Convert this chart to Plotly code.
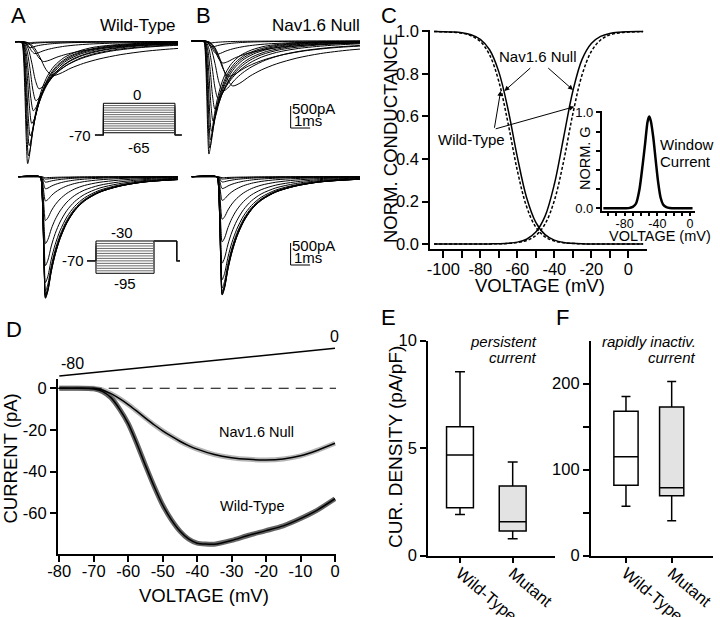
import plotly.graph_objects as go

W, H = 720, 617
FONT = "Liberation Sans, Arial, Helvetica, sans-serif"

# ---------------- data ----------------
# A/B sweeps: normalised sodium-current time course (t in units of time-to-peak)
sweep_shape_t = [0, 0.2, 0.4, 0.6, 0.8, 1.0, 1.25, 1.6, 2.0, 2.5, 3.2, 4.0, 5.0, 6.5, 8.5, 11, 15, 20, 30]
sweep_shape_i = [0, 0.02, 0.15, 0.45, 0.82, 1.0, 0.94, 0.78, 0.64, 0.51, 0.38, 0.28, 0.2, 0.13, 0.08, 0.045, 0.022, 0.009, 0]

# activation families (steps -65..0 mV): peak amplitude (pA) and time to peak (ms)
wt_act_peak_pa = [2770, 2590, 2360, 2140, 1860, 1570, 1340, 1070, 770, 450, 270, 135, 55, 25]
wt_act_rise_ms = [0.34, 0.38, 0.42, 0.47, 0.55, 0.63, 0.76, 0.92, 1.6, 1.15, 0.7, 0.45, 0.35, 0.3]
null_act_peak_pa = [2570, 2430, 2250, 2050, 1820, 1550, 1300, 1140, 1020, 800, 500, 300, 135, 45]
null_act_rise_ms = [0.29, 0.33, 0.37, 0.42, 0.5, 0.6, 0.75, 1.0, 1.5, 1.3, 1.0, 0.7, 0.45, 0.35]

# inactivation families (prepulses -95..-30 mV)
wt_inact_peak_pa = [2764, 2750, 2723, 2681, 2598, 2405, 2018, 1520, 995, 553, 276, 124, 55, 22]
null_inact_peak_pa = [2690, 2677, 2650, 2609, 2529, 2340, 1964, 1480, 968, 538, 269, 121, 54, 22]
inact_rise_ms = 0.28
inact_decay_ms = 0.5

scale_pa = 500
scale_ms = 1

# voltage protocols
hold_mv = -70
act_steps_mv = [-65, -60, -55, -50, -45, -40, -35, -30, -25, -20, -15, -10, -5, 0]
act_protocol_ms = [0.0, 0.43, 4.1, 4.44]
inact_steps_mv = [-95, -90, -85, -80, -75, -70, -65, -60, -55, -50, -45, -40, -35, -30]
inact_test_mv = -30
inact_protocol_ms = [0.0, 0.46, 3.44, 4.6, 4.77]

# C: normalised conductance
c_volt_mv = [-105, -100, -95, -90, -85, -80, -75, -70, -65, -60, -55, -50, -45, -40,
             -35, -30, -25, -20, -15, -10, -5, 0, 5, 8]
null_inact_g = [1.0, 0.999, 0.9975, 0.994, 0.985, 0.963, 0.914, 0.810, 0.633, 0.410, 0.219, 0.102,
                0.044, 0.018, 0.007, 0.003, 0.001, 0, 0, 0, 0, 0, 0, 0]
wt_inact_g = [1.0, 0.9987, 0.9968, 0.992, 0.980, 0.953, 0.890, 0.765, 0.568, 0.346, 0.176, 0.079,
              0.034, 0.014, 0.0056, 0.0023, 0.0009, 0, 0, 0, 0, 0, 0, 0]
null_act_g = [0, 0, 0, 0, 0, 0.0001, 0.0005, 0.0014, 0.0035, 0.0088, 0.0225, 0.056, 0.131, 0.281,
              0.5, 0.719, 0.869, 0.944, 0.977, 0.991, 0.9965, 0.9986, 0.9995, 0.9998]
wt_act_g = [0, 0, 0, 0, 0, 0.0001, 0.0004, 0.001, 0.0027, 0.0067, 0.0165, 0.040, 0.094, 0.204,
            0.388, 0.612, 0.796, 0.906, 0.960, 0.984, 0.9933, 0.9973, 0.999, 0.9994]

win_volt_mv = [-106, -90, -75, -70, -66, -62, -58, -55, -52, -50, -48, -45, -42, -39, -36, -33, -29, -25, -15, 3]
win_g = [0, 0, 0.002, 0.015, 0.05, 0.19, 0.45, 0.67, 0.90, 0.955, 0.91, 0.74, 0.50, 0.27, 0.11, 0.04, 0.012, 0.003, 0, 0]

# D: ramp currents
ramp_mv = [-80, 0]
d_volt_mv = [-80, -75, -70, -67.5, -65, -62.5, -60, -57.5, -55, -52.5, -50, -47.5, -45, -42.5, -40,
             -35, -30, -25, -20, -15, -10, -5, 0]
null_ramp_pa = [0, 0, 0, -0.8, -2.6, -5.0, -7.8, -11.0, -14.3, -17.5, -20.4, -23.0, -25.4, -27.5, -29.2,
                -31.8, -33.3, -34.1, -34.4, -33.9, -32.4, -29.7, -26.4]
wt_ramp_pa = [0, 0, -0.3, -1.5, -4.5, -10, -17, -26.5, -37, -47, -56, -63, -68.5, -72.3, -74.3,
              -74.8, -73, -70.5, -68.3, -66, -62.5, -58.3, -53]

# E/F: box plots
groups = ["Wild-Type", "Mutant"]
e_low = [1.92, 0.79]
e_q1 = [2.23, 1.15]
e_med = [4.68, 1.58]
e_q3 = [6.0, 3.24]
e_high = [8.56, 4.36]
f_low = [57.6, 40.6]
f_q1 = [82, 69.6]
f_med = [115, 79]
f_q3 = [168, 173]
f_high = [185, 202.7]


def dom_x(left, right):
    return [left / W, right / W]


def dom_y(top, bottom):
    return [1 - bottom / H, 1 - top / H]


def sweep_xy(peak, rise, decay, t_start):
    xs, ys = [t_start], [0.0]
    for tn, v in zip(sweep_shape_t, sweep_shape_i):
        t = tn * rise if tn <= 1 else rise + (tn - 1) * decay
        xs.append(t)
        ys.append(-peak * v)
    return xs, ys


fig = go.Figure()


def add_line(x, y, n, **line):
    fig.add_trace(go.Scatter(x=x, y=y, mode="lines", line=line, hoverinfo="skip",
                             xaxis="x" + n, yaxis="y" + n, showlegend=False))


# A top / B top
for p, r in zip(wt_act_peak_pa, wt_act_rise_ms):
    x, y = sweep_xy(p, r, r, -0.31)
    add_line(x, y, "", color="black", width=1, shape="spline", smoothing=0.8)
for p, r in zip(null_act_peak_pa, null_act_rise_ms):
    x, y = sweep_xy(p, r, r, -0.6)
    add_line(x, y, "3", color="black", width=1, shape="spline", smoothing=0.8)
# A bottom / B bottom
for p in wt_inact_peak_pa:
    x, y = sweep_xy(p, inact_rise_ms, inact_decay_ms, -1.11)
    add_line(x, y, "2", color="black", width=1, shape="spline", smoothing=0.8)
for p in null_inact_peak_pa:
    x, y = sweep_xy(p, inact_rise_ms, inact_decay_ms, -1.28)
    add_line(x, y, "4", color="black", width=1, shape="spline", smoothing=0.8)

# scale bars (B)
for n, bx, by in [("3", 4.48, -1978), ("4", 3.79, -2007)]:
    add_line([bx, bx, bx + scale_ms], [by + scale_pa, by, by], n, color="black", width=1)

# protocols
t0, t1, t2, t3 = act_protocol_ms
for v in act_steps_mv:
    col = "black" if v in (act_steps_mv[0], act_steps_mv[-1]) else "#6a6a6a"
    add_line([t0, t1, t1, t2, t2, t3], [hold_mv, hold_mv, v, v, hold_mv, hold_mv], "5", color=col, width=1)
u0, u1, u2, u3, u4 = inact_protocol_ms
for v in inact_steps_mv:
    col = "black" if v in (inact_steps_mv[0], inact_steps_mv[-1]) else "#6a6a6a"
    add_line([u0, u1, u1, u2, u2, u3, u3, u4],
             [hold_mv, hold_mv, v, v, inact_test_mv, inact_test_mv, hold_mv, hold_mv], "6", color=col, width=1)

# C
add_line(c_volt_mv, wt_inact_g, "7", color="black", width=1.5, dash="3px,2px", shape="spline")
add_line(c_volt_mv, wt_act_g, "7", color="black", width=1.5, dash="3px,2px", shape="spline")
add_line(c_volt_mv, null_inact_g, "7", color="black", width=1.5, shape="spline")
add_line(c_volt_mv, null_act_g, "7", color="black", width=1.5, shape="spline")
add_line(win_volt_mv, win_g, "8", color="black", width=2.5, shape="spline", smoothing=0.7)

# D
add_line(d_volt_mv, null_ramp_pa, "9", color="#b4b4b4", width=5, shape="spline", smoothing=0.6)
add_line(d_volt_mv, wt_ramp_pa, "9", color="#646464", width=5, shape="spline", smoothing=0.6)
add_line(d_volt_mv, null_ramp_pa, "9", color="black", width=1.5, shape="spline", smoothing=0.6)
add_line(d_volt_mv, wt_ramp_pa, "9", color="black", width=1.5, shape="spline", smoothing=0.6)
add_line(ramp_mv, ramp_mv, "10", color="black", width=1.5)
fig.add_hline(y=0, line=dict(color="black", width=1, dash="10px,7px"), xref="x9", yref="y9")

# E / F boxes
fills = ["white", "#e3e3e3"]
for n, lo, q1, md, q3, hi, wd in [("11", e_low, e_q1, e_med, e_q3, e_high, 0.51),
                                  ("12", f_low, f_q1, f_med, f_q3, f_high, 0.53)]:
    for i, g in enumerate(groups):
        fig.add_trace(go.Box(x=[g], q1=[q1[i]], median=[md[i]], q3=[q3[i]],
                             lowerfence=[lo[i]], upperfence=[hi[i]], fillcolor=fills[i],
                             line=dict(color="black", width=1.5), whiskerwidth=0.37, width=wd,
                             boxpoints=False, hoverinfo="skip", showlegend=False,
                             xaxis="x" + n, yaxis="y" + n))


def hidden(domain, rng, anchor):
    return dict(domain=domain, range=rng, visible=False, anchor=anchor, fixedrange=True,
                automargin=False)


def shown(domain, rng, anchor, **kw):
    d = dict(domain=domain, range=rng, anchor=anchor, showgrid=False, zeroline=False,
             showline=True, linecolor="black", linewidth=1.5, ticks="outside", ticklen=6,
             tickwidth=1.5, tickcolor="black", tickfont=dict(size=16.5, color="black"),
             automargin=False, fixedrange=True)
    d.update(kw)
    return d


c_ticks = [-100, -90, -80, -70, -60, -50, -40, -30, -20, -10, 0]
layout = dict(
    width=W, height=H, margin=dict(l=0, r=0, t=0, b=0, pad=0, autoexpand=False),
    paper_bgcolor="white", plot_bgcolor="rgba(0,0,0,0)",
    font=dict(family=FONT, color="black"), showlegend=False,
    xaxis=hidden(dom_x(15, 178), [-0.31, 8.05], "y"),
    yaxis=hidden(dom_y(36, 170), [-2916, 130], "x"),
    xaxis2=hidden(dom_x(15, 178), [-1.282, 7.077], "y2"),
    yaxis2=hidden(dom_y(170, 305), [-2916, 152], "x2"),
    xaxis3=hidden(dom_x(190, 360), [-0.682, 8.036], "y3"),
    yaxis3=hidden(dom_y(36, 170), [-2932, 114], "x3"),
    xaxis4=hidden(dom_x(190, 360), [-1.369, 7.349], "y4"),
    yaxis4=hidden(dom_y(170, 305), [-2916, 152], "x4"),
    xaxis5=hidden(dom_x(90, 185), [-0.256, 4.615], "y5"),
    yaxis5=hidden(dom_y(95, 140), [-81.0, 18.3], "x5"),
    xaxis6=hidden(dom_x(80, 185), [-0.359, 5.026], "y6"),
    yaxis6=hidden(dom_y(232, 280), [-108.5, -11.9], "x6"),
    xaxis7=shown(dom_x(430, 647), [-107.2, 10.1], "y7", ticklen=7, tickvals=c_ticks,
                 ticklabelstandoff=-3,
                 ticktext=["-100", "", "-80", "", "-60", "", "-40", "", "-20", "", "0"]),
    yaxis7=shown(dom_y(30, 249), [-0.0235, 1.007], "x7", tickvals=[0, 0.2, 0.4, 0.6, 0.8, 1.0],
                 ticktext=["0.0", "0.2", "0.4", "0.6", "0.8", "1.0"]),
    xaxis8=shown(dom_x(601.7, 695), [-108, 6], "y8", ticklen=3, tickfont=dict(size=12.5),
                 ticklabelstandoff=-3,
                 tickvals=c_ticks, ticktext=["", "", "-80", "", "", "", "-40", "", "", "", "0"]),
    yaxis8=shown(dom_y(111, 211), [-0.028, 1.0135], "x8", ticklen=4, tickfont=dict(size=13),
                 tickvals=[0, 0.2, 0.4, 0.6, 0.8, 1.0], ticktext=["0.0", "", "", "", "", "1.0"]),
    xaxis9=shown(dom_x(57.7, 336), [-80.46, 0.3], "y9", ticklabelstandoff=-5,
                 tickvals=[-80, -70, -60, -50, -40, -30, -20, -10, 0],
                 ticktext=["-80", "-70", "-60", "-50", "-40", "-30", "-20", "-10", "0"]),
    yaxis9=shown(dom_y(379.3, 554), [-79.5, 4.3], "x9", tickvals=[0, -20, -40, -60],
                 ticktext=["0", "-20", "-40", "-60"]),
    xaxis10=hidden(dom_x(57.7, 336), [-80.46, 0.3], "y10"),
    yaxis10=hidden(dom_y(340, 380), [-91.55, 24.0], "x10"),
    xaxis11=shown(dom_x(428, 555), [-0.607, 1.803], "y11", type="category", tickangle=40,
                  tickfont=dict(size=16.5), ticklabelstandoff=-6),
    yaxis11=shown(dom_y(340.7, 555.7), [0, 10], "x11", tickvals=[0, 5, 10]),
    xaxis12=shown(dom_x(590.7, 713), [-0.772, 1.904], "y12", type="category", tickangle=40,
                  tickfont=dict(size=16.5), ticklabelstandoff=-6),
    yaxis12=shown(dom_y(340.7, 555.7), [0, 250], "x12", tickvals=[0, 50, 100, 150, 200],
                  ticktext=["0", "", "100", "", "200"]),
)
fig.update_layout(**layout)


def note(text, x, y, size, xref="paper", yref="paper", **kw):
    d = dict(text=text, x=x, y=y, xref=xref, yref=yref, showarrow=False,
             xanchor="center", yanchor="middle",
             font=dict(size=size, color="black", family=FONT))
    d.update(kw)
    fig.add_annotation(**d)


# panel letters
for letter, lx, cy in [("A", 9, 15), ("B", 194, 15), ("C", 379, 15), ("D", 4, 330), ("E", 379, 318), ("F", 554, 318)]:
    note(letter, lx / W, 1 - cy / H, 22, xanchor="left")

# A/B titles
note("Wild-Type", 178 / W, 1 - 25 / H, 17, xanchor="right")
note("Nav1.6 Null", 362 / W, 1 - 25.5 / H, 17, xanchor="right")

# scale bar labels
for n, bx, by in [("3", 4.48, -1978), ("4", 3.79, -2007)]:
    note(f"{scale_pa}pA", bx, by + scale_pa, 15, xref="x" + n, yref="y" + n,
         xanchor="left", yanchor="top", yshift=8, xshift=-1)
    note(f"{scale_ms}ms", bx, by, 15, xref="x" + n, yref="y" + n,
         xanchor="left", yanchor="bottom", yshift=-3, xshift=1)

# protocol labels
note("0", 2.15, 0, 15, xref="x5", yref="y5", yanchor="bottom", yshift=-2)
note("-65", 2.25, -65, 15, xref="x5", yref="y5", yanchor="top", yshift=-4)
note("-70", 0, -70, 15, xref="x5", yref="y5", xanchor="right", xshift=-2)
note("-30", 1.79, -30, 15, xref="x6", yref="y6", yanchor="bottom", yshift=-2)
note("-95", 1.95, -95, 15, xref="x6", yref="y6", yanchor="top", yshift=0)
note("-70", 0, -70, 15, xref="x6", yref="y6", xanchor="right", xshift=-1)

# C texts and arrows
note("NORM. CONDUCTANCE", 390 / W, 1 - 139 / H, 18.5, textangle=-90)
note("VOLTAGE (mV)", 540 / W, 1 - 286 / H, 18.5)
note("NORM. G", 585 / W, 1 - 158 / H, 14.5, textangle=-90)
note("VOLTAGE (mV)", 660 / W, 1 - 236 / H, 14.5)
note("Window", 658 / W, 1 - 144 / H, 15, xanchor="left")
note("Current", 658 / W, 1 - 161 / H, 15, xanchor="left")
note("Nav1.6 Null", -48.8, 0.88, 15, xref="x7", yref="y7")
note("Wild-Type", -84.5, 0.494, 15, xref="x7", yref="y7")
for hx, hy, tx, ty in [(-67, 0.72, -52.2, 0.834), (-29.9, 0.725, -44.1, 0.834),
                       (-69, 0.72, -72.5, 0.54), (-29.2, 0.646, -72.5, 0.54)]:
    fig.add_annotation(x=hx, y=hy, ax=tx, ay=ty, xref="x7", yref="y7", axref="x7", ayref="y7",
                       text="", showarrow=True, arrowhead=2, arrowsize=1, arrowwidth=1,
                       arrowcolor="black")

# D texts
note("CURRENT (pA)", 9.5 / W, 1 - 459 / H, 18.5, textangle=-90)
note("VOLTAGE (mV)", 204 / W, 1 - 595 / H, 18.5)
note("Nav1.6 Null", -22.9, -21, 14.5, xref="x9", yref="y9")
note("Wild-Type", -24.1, -56.5, 14.5, xref="x9", yref="y9")
note("-80", -80, -80, 16, xref="x10", yref="y10", xanchor="left", yanchor="bottom", yshift=2)
note("0", 0, 0, 16, xref="x10", yref="y10", yanchor="bottom", yshift=1)

# E/F texts
note("CUR. DENSITY (pA/pF)", 395 / W, 1 - 447 / H, 19, textangle=-90)
note("<i>persistent</i>", 539 / W, 1 - 342 / H, 15, xanchor="right")
note("<i>current</i>", 539 / W, 1 - 357 / H, 15, xanchor="right")
note("<i>rapidly inactiv.</i>", 698 / W, 1 - 342 / H, 15, xanchor="right")
note("<i>current</i>", 698 / W, 1 - 357 / H, 15, xanchor="right")

fig.write_html("out.html", config={"displayModeBar": False},
               post_script="document.body.style.margin='0';")
